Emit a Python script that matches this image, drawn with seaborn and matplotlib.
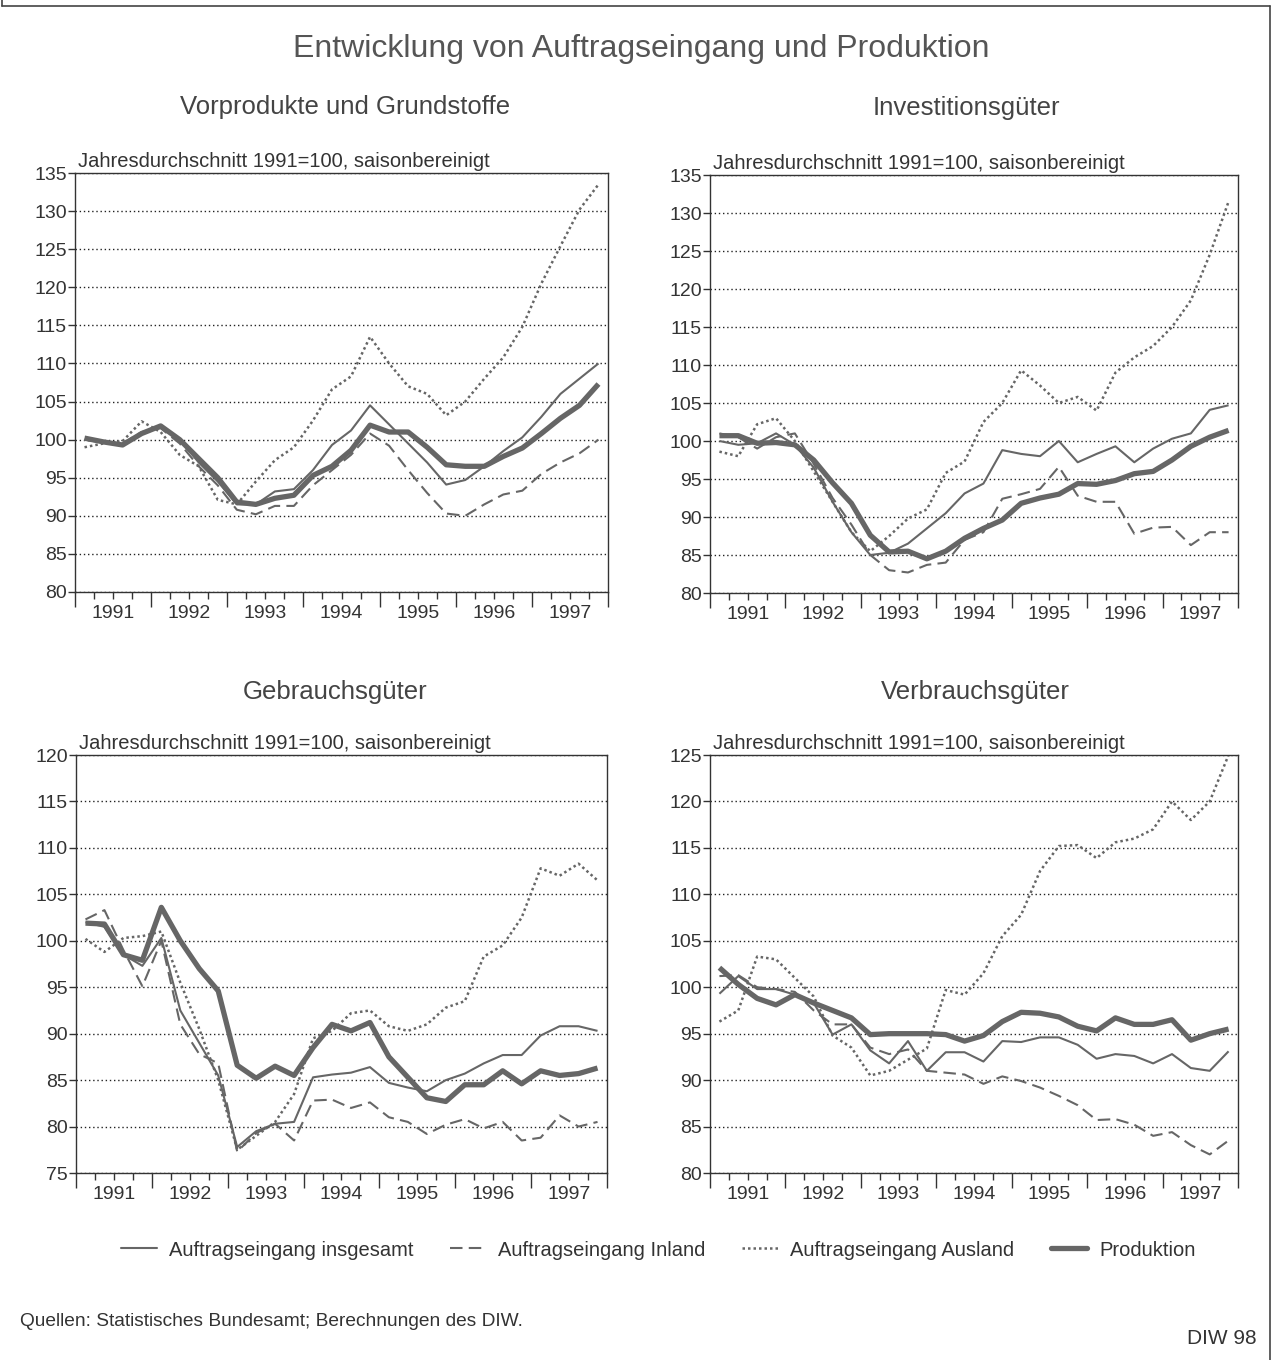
import numpy as np
import pandas as pd
import matplotlib
matplotlib.use("Agg")
import matplotlib.pyplot as plt
from matplotlib.lines import Line2D
import seaborn as sns

sns.set_style("white")
plt.rcParams['font.family'] = ['Liberation Sans', 'DejaVu Sans']
plt.rcParams['text.color'] = '#333333'

# quarterly data 1991Q1 .. 1997Q4, index 1991 = 100
years = [1991, 1992, 1993, 1994, 1995, 1996, 1997]
quarters = [f"{y}Q{q}" for y in years for q in range(1, 5)]

# Vorprodukte und Grundstoffe
vor_ges = [100.0, 99.6, 99.2, 100.8, 101.8, 100.0, 97.0, 94.5, 91.5, 91.5, 93.2, 93.5,
           96.0, 99.3, 101.2, 104.5, 102.0, 99.5, 97.0, 94.1, 94.7, 96.5, 98.5, 100.3,
           103.0, 106.0, 108.0, 110.0]
vor_inl = [100.0, 99.7, 99.5, 101.0, 101.5, 99.5, 96.5, 94.0, 90.8, 90.2, 91.3, 91.3,
           94.0, 96.0, 98.0, 100.8, 99.2, 96.0, 93.0, 90.3, 90.0, 91.5, 92.8, 93.3,
           95.5, 97.0, 98.2, 100.0]
vor_aus = [99.0, 99.5, 99.8, 102.4, 101.0, 98.0, 96.5, 92.1, 91.5, 94.5, 97.3, 99.0,
           102.5, 106.6, 108.3, 113.5, 110.0, 107.0, 106.0, 103.2, 105.0, 108.0, 110.8, 114.8,
           120.5, 125.4, 130.2, 133.5]
vor_prod = [100.2, 99.7, 99.3, 100.8, 101.8, 100.0, 97.5, 95.0, 91.8, 91.5, 92.3, 92.7,
            95.3, 96.5, 98.6, 101.9, 101.0, 101.0, 99.0, 96.7, 96.5, 96.5, 97.8, 98.9,
            100.8, 102.8, 104.5, 107.3]

# Investitionsgueter
inv_ges = [100.0, 99.5, 99.7, 101.0, 99.5, 96.5, 92.0, 88.0, 85.0, 85.3, 86.5, 88.5,
           90.5, 93.1, 94.4, 98.8, 98.3, 98.0, 100.0, 97.2, 98.3, 99.3, 97.2, 99.0,
           100.3, 101.0, 104.1, 104.7]
inv_inl = [101.0, 100.5, 99.0, 100.5, 101.0, 97.0, 92.5, 89.0, 85.0, 83.0, 82.7, 83.7,
           84.0, 87.0, 88.0, 92.4, 93.0, 93.7, 96.6, 92.8, 92.0, 92.0, 87.8, 88.6,
           88.7, 86.3, 88.0, 88.0]
inv_aus = [98.6, 98.0, 102.2, 103.0, 100.0, 96.0, 92.0, 88.0, 85.5, 87.5, 89.8, 91.0,
           95.8, 97.3, 102.5, 105.0, 109.3, 107.3, 105.0, 105.8, 104.0, 109.0, 111.0, 112.5,
           115.0, 118.5, 124.5, 131.5]
inv_prod = [100.7, 100.7, 99.7, 99.8, 99.5, 97.5, 94.5, 91.8, 87.6, 85.4, 85.5, 84.5,
            85.5, 87.2, 88.5, 89.6, 91.8, 92.5, 93.0, 94.4, 94.3, 94.8, 95.7, 96.0,
            97.5, 99.3, 100.5, 101.4]

# Gebrauchsgueter
geb_ges = [102.0, 101.5, 98.5, 97.3, 100.3, 92.5, 89.0, 85.5, 77.8, 79.5, 80.3, 80.5,
           85.3, 85.6, 85.8, 86.4, 84.7, 84.2, 83.8, 85.0, 85.7, 86.8, 87.7, 87.7,
           89.8, 90.8, 90.8, 90.3]
geb_inl = [102.3, 103.3, 99.0, 95.1, 100.0, 91.0, 87.8, 86.8, 77.3, 79.3, 80.3, 78.5,
           82.8, 82.9, 82.0, 82.6, 81.0, 80.5, 79.2, 80.2, 80.8, 79.8, 80.5, 78.5,
           78.8, 81.2, 80.0, 80.5]
geb_aus = [100.2, 98.8, 100.3, 100.5, 101.0, 95.5, 90.5, 85.0, 77.5, 79.0, 80.5, 83.5,
           89.5, 90.3, 92.2, 92.5, 90.8, 90.3, 91.0, 92.8, 93.5, 98.3, 99.5, 102.5,
           107.8, 107.0, 108.3, 106.5]
geb_prod = [101.9, 101.8, 98.5, 97.9, 103.6, 100.0, 97.0, 94.6, 86.6, 85.2, 86.5, 85.5,
            88.5, 91.0, 90.3, 91.2, 87.5, 85.3, 83.1, 82.7, 84.5, 84.5, 86.0, 84.6,
            86.0, 85.5, 85.7, 86.3]

# Verbrauchsgueter
ver_ges = [99.3, 101.2, 99.8, 99.8, 99.2, 98.3, 94.9, 96.0, 93.2, 91.8, 94.2, 91.0,
           93.0, 93.0, 92.0, 94.2, 94.1, 94.6, 94.6, 93.8, 92.3, 92.8, 92.6, 91.8,
           92.8, 91.3, 91.0, 93.1]
ver_inl = [101.2, 101.3, 100.0, 99.8, 99.5, 97.5, 96.0, 96.0, 93.5, 92.8, 93.3, 91.0,
           90.8, 90.6, 89.6, 90.4, 89.9, 89.2, 88.3, 87.3, 85.7, 85.8, 85.2, 84.0,
           84.4, 83.0, 82.0, 83.5]
ver_aus = [96.3, 97.5, 103.3, 103.0, 101.0, 99.0, 94.8, 93.5, 90.5, 91.0, 92.2, 93.4,
           99.7, 99.2, 101.5, 105.5, 107.8, 112.5, 115.2, 115.3, 113.9, 115.6, 116.0, 117.0,
           120.0, 118.0, 120.0, 125.0]
ver_prod = [102.1, 100.3, 98.8, 98.1, 99.2, 98.3, 97.5, 96.7, 94.9, 95.0, 95.0, 95.0,
            94.9, 94.2, 94.8, 96.3, 97.3, 97.2, 96.8, 95.8, 95.3, 96.7, 96.0, 96.0,
            96.5, 94.3, 95.0, 95.5]

panels = [
    ("Vorprodukte und Grundstoffe", (80, 135), vor_ges, vor_inl, vor_aus, vor_prod),
    ("Investitionsgüter", (80, 135), inv_ges, inv_inl, inv_aus, inv_prod),
    ("Gebrauchsgüter", (75, 120), geb_ges, geb_inl, geb_aus, geb_prod),
    ("Verbrauchsgüter", (80, 125), ver_ges, ver_inl, ver_aus, ver_prod),
]

series_names = ["Auftragseingang insgesamt", "Auftragseingang Inland",
                "Auftragseingang Ausland", "Produktion"]
line_color = '#666666'
styles = [
    dict(lw=1.5, linestyle='-'),
    dict(lw=1.5, linestyle=(0, (6, 3))),
    dict(lw=1.8, linestyle=(0, (1, 1.2))),
    dict(lw=3.8, linestyle='-'),
]

W, H = 1273, 1360
fig = plt.figure(figsize=(W / 100, H / 100), dpi=100)

# axes boxes in pixels: left, top, right, bottom
boxes = [(75, 173, 608, 592), (710, 175, 1238, 593),
         (76, 755, 607, 1173), (710, 755, 1238, 1173)]
header_pos = [(345, 107), (966, 108), (335, 692), (975, 692)]

xpos = np.arange(len(quarters)) + 0.5

for (name, ylim, ges, inl, aus, prod), box, hp in zip(panels, boxes, header_pos):
    l, t, r, b = box
    ax = fig.add_axes([l / W, 1 - b / H, (r - l) / W, (b - t) / H])
    df = pd.DataFrame({'x': xpos, series_names[0]: ges, series_names[1]: inl,
                       series_names[2]: aus, series_names[3]: prod})
    for s, st in zip(series_names, styles):
        sns.lineplot(data=df, x='x', y=s, ax=ax, color=line_color,
                     solid_capstyle='butt', **st)

    ax.set_xlim(0, len(quarters))
    ax.set_ylim(*ylim)
    ax.set_yticks(np.arange(ylim[0], ylim[1] + 1, 5))
    ax.grid(axis='y', linestyle=(0, (1, 2)), color='#222222', lw=1.0)
    ax.set_xticks(np.arange(0, len(quarters) + 1, 4))
    ax.set_xticks(np.arange(0, len(quarters) + 1, 1), minor=True)
    ax.set_xticklabels([])
    ax.tick_params(axis='x', which='major', bottom=True, length=11, width=1,
                   direction='out', color='#333333')
    ax.tick_params(axis='x', which='minor', bottom=True, length=5, width=1,
                   direction='out', color='#333333')
    ax.tick_params(axis='y', left=True, length=5, width=1, direction='out', labelsize=14,
                   pad=1, labelcolor='#333333', color='#333333')
    for k, yr in enumerate(years):
        ax.text(4 * k + 2, -0.032, str(yr), transform=ax.get_xaxis_transform(),
                ha='center', va='top', fontsize=14, color='#333333')
    for sp in ax.spines.values():
        sp.set_color('#333333')
        sp.set_linewidth(1.0)
    ax.set_xlabel('')
    ax.set_ylabel('')
    ax.text(0.005, 1.005, "Jahresdurchschnitt 1991=100, saisonbereinigt",
            transform=ax.transAxes, ha='left', va='bottom', fontsize=14.5)
    fig.text(hp[0] / W, 1 - hp[1] / H, name, ha='center', va='center',
             fontsize=18.5, color='#444444')

fig.text(641 / W, 1 - 49 / H, "Entwicklung von Auftragseingang und Produktion",
         ha='center', va='center', fontsize=23, color='#555555')

handles = [Line2D([], [], color=line_color, **st) for st in styles]
fig.legend(handles, series_names, loc='center', bbox_to_anchor=(0.517, 1 - 1250 / H),
           ncol=4, frameon=False, fontsize=14.5, handlelength=1.8, columnspacing=1.8,
           handletextpad=0.6)

fig.text(20 / W, 1 - 1322 / H, "Quellen: Statistisches Bundesamt; Berechnungen des DIW.",
         ha='left', va='center', fontsize=13.8)
fig.text(1257 / W, 1 - 1338 / H, "DIW 98", ha='right', va='center', fontsize=15)

# outer frame
for xs, ys in [([2, 2], [0, 6]), ([2, 1270], [6, 6]), ([1270, 1270], [6, 1360])]:
    fig.add_artist(Line2D([x / W for x in xs], [1 - y / H for y in ys],
                          color='#444444', lw=1.2))

fig.savefig('out.png', dpi=100)
